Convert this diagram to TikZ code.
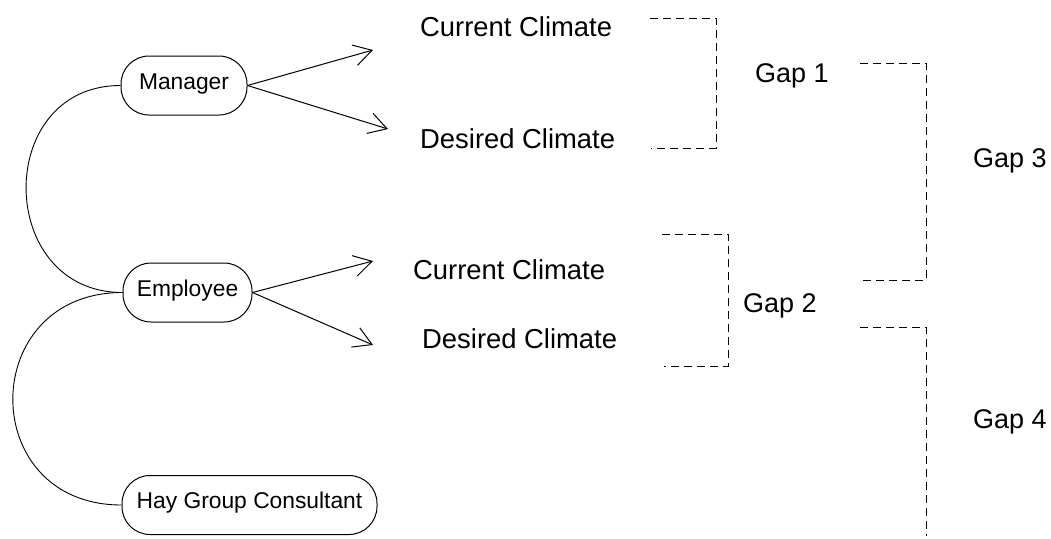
\documentclass[tikz,border=0pt]{standalone}
\usepackage{fontspec}
\setmainfont{Liberation Sans}
\usetikzlibrary{arrows.meta}

\tikzset{
  role/.style={draw, line width=1pt, rounded corners=28pt, minimum height=59pt,
    inner sep=0pt, text height=0.716em, text depth=0pt,
    font=\fontsize{22.8pt}{26pt}\selectfont},
  climate/.style={anchor=base west, inner sep=0pt, font=\fontsize{27.4pt}{32pt}\selectfont},
  gaplabel/.style={anchor=base west, inner sep=0pt, font=\fontsize{27pt}{32pt}\selectfont},
  link/.style={line width=0.9pt},
  pointer/.style={line width=1pt, -{Straight Barb[length=18pt,width=21pt,line width=1pt]}},
  gapline/.style={line width=1pt, dash pattern=on 8pt off 5pt}
}

\begin{document}
\begin{tikzpicture}[x=1pt, y=-1pt]
\useasboundingbox (0,0) rectangle (1051,538);

% roles
\node[role, minimum width=126pt] (mgr) at (184,85.5) {Manager};
\node[role, minimum width=129pt] (emp) at (187.5,292.5) {Employee};
\node[role, minimum width=255pt] (hay) at (249.5,505) {Hay Group Consultant};

% links between the roles
\draw[link] (mgr.west) to[out=180, in=180, looseness=1.57] (emp.west);
\draw[link] (emp.west) to[out=180, in=180, looseness=1.75] (hay.west);

% climate perceptions
\node[climate] (cc1) at (420,36) {Current Climate};
\node[climate] (dc1) at (420,148) {Desired Climate};
\node[climate] (cc2) at (413,279) {Current Climate};
\node[climate] (dc2) at (422,348) {Desired Climate};

% arrow tips
\coordinate (m1) at (373,50);
\coordinate (m2) at (388,129);
\coordinate (e1) at (373,261);
\coordinate (e2) at (373,345);

\draw[pointer] (mgr.east) -- (m1);
\draw[pointer] (mgr.east) -- (m2);
\draw[pointer] (emp.east) -- (e1);
\draw[pointer] (emp.east) -- (e2);

% gap labels
\node[gaplabel] (g1) at (755,82) {Gap 1};
\node[gaplabel] (g2) at (743,312) {Gap 2};
\node[gaplabel] (g3) at (973,167) {Gap 3};
\node[gaplabel] (g4) at (973,428) {Gap 4};

% brackets
\coordinate (b1a) at (650,18);
\coordinate (b1b) at (716,18);
\coordinate (b1c) at (716,148);
\coordinate (b1d) at (651,148);
\draw[gapline] (b1a) -- (b1b) -- (b1c) -- (b1d);

\coordinate (b2a) at (662,234);
\coordinate (b2b) at (728,234);
\coordinate (b2c) at (728,366);
\coordinate (b2d) at (664,366);
\draw[gapline] (b2a) -- (b2b) -- (b2c) -- (b2d);

\coordinate (b3a) at (860,63);
\coordinate (b3b) at (926,63);
\coordinate (b3c) at (926,280);
\coordinate (b3d) at (860,280);
\draw[gapline] (b3a) -- (b3b) -- (b3c) -- (b3d);

\coordinate (b4a) at (860,327);
\coordinate (b4b) at (926,327);
\coordinate (b4c) at (926,536);
\draw[gapline] (b4a) -- (b4b) -- (b4c);
\end{tikzpicture}
\end{document}
